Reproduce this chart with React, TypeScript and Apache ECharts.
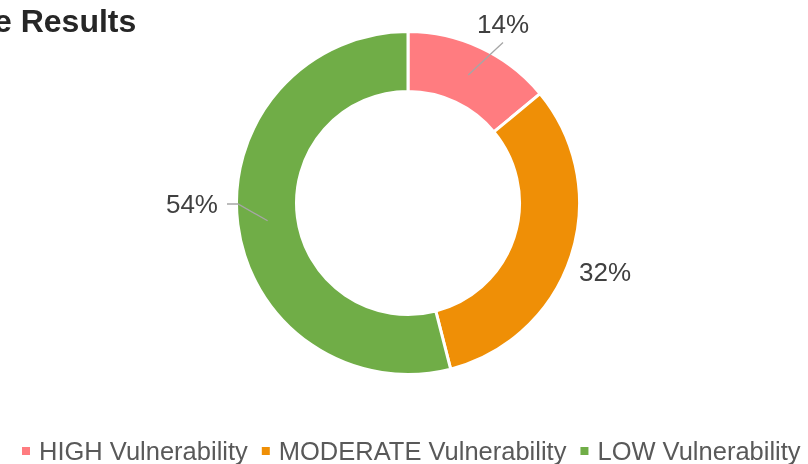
import { useEffect, useRef } from 'react';
import * as echarts from 'echarts';

const TITLE = 'e Results';
const CATEGORIES = ['HIGH Vulnerability', 'MODERATE Vulnerability', 'LOW Vulnerability'];
const VALUES = [14, 32, 54];
const COLORS = ['#FF7C80', '#EF8F06', '#70AD47'];
const SHOW_LEADER = [true, false, true];

// label placement (text anchor) for each slice
const LABEL_POS: { x: number; y: number; align: string; line: string }[] = [
  { x: 503, y: 24, align: 'center', line: 'bottom' },
  { x: 579, y: 272, align: 'left', line: 'none' },
  { x: 218, y: 204, align: 'right', line: 'right' },
];

const FONT = "'Liberation Sans', Arial, Helvetica, sans-serif";

export default function App() {
  const ref = useRef<HTMLDivElement>(null);

  useEffect(() => {
    if (!ref.current) return;
    const chart = echarts.init(ref.current, undefined, { renderer: 'svg' });
    const center = [408, 203];

    const mainData = CATEGORIES.map((name, i) => ({
      name,
      value: VALUES[i],
      itemStyle: { color: COLORS[i] },
    }));
    const labelData = CATEGORIES.map((name, i) => ({
      name,
      value: VALUES[i],
      labelLine: { show: SHOW_LEADER[i] },
    }));

    chart.setOption({
      animation: false,
      title: {
        text: TITLE,
        left: -6,
        top: 5,
        padding: 0,
        textStyle: { fontFamily: FONT, fontSize: 32, fontWeight: 'bold', color: '#262626' },
      },
      legend: {
        data: CATEGORIES,
        left: 22,
        top: 437,
        padding: 0,
        icon: 'rect',
        itemWidth: 8,
        itemHeight: 8,
        itemGap: 14,
        itemStyle: { borderWidth: 0 },
        textStyle: {
          fontFamily: FONT,
          fontSize: 25.5,
          color: '#595959',
          lineHeight: 28,
          padding: [0, 0, 0, 4],
        },
      },
      series: [
        {
          type: 'pie',
          z: 2,
          center,
          radius: [111.5, 171.5],
          startAngle: 90,
          clockwise: true,
          label: { show: false },
          labelLine: { show: false },
          itemStyle: { borderColor: '#ffffff', borderWidth: 3 },
          emphasis: { disabled: true },
          data: mainData,
        },
        {
          type: 'pie',
          z: 6,
          center,
          radius: [0, 141.5],
          startAngle: 90,
          clockwise: true,
          silent: true,
          avoidLabelOverlap: false,
          itemStyle: { color: 'rgba(0,0,0,0)' },
          emphasis: { disabled: true },
          label: {
            show: true,
            position: 'outside',
            fontFamily: FONT,
            fontSize: 26,
            color: '#404040',
            formatter: (p: any) => Math.round(p.percent) + '%',
          },
          labelLine: {
            show: true,
            length: 10,
            length2: 10,
            lineStyle: { color: '#A6A6A6', width: 1.3 },
          },
          labelLayout: (params: any) => {
            const cfg = LABEL_POS[params.dataIndex];
            const res: any = { x: cfg.x, y: cfg.y, align: cfg.align, verticalAlign: 'middle' };
            const pts = params.labelLinePoints;
            if (pts && pts[0]) {
              const p0 = [pts[0][0], pts[0][1]];
              if (cfg.line === 'bottom') {
                const e = [cfg.x, cfg.y + 18.5];
                res.labelLinePoints = [p0, e, e];
              } else if (cfg.line === 'right') {
                res.labelLinePoints = [p0, [cfg.x + 20, cfg.y], [cfg.x + 9, cfg.y]];
              }
            }
            return res;
          },
          data: labelData,
        },
      ],
    });

    return () => {
      chart.dispose();
    };
  }, []);

  return (
    <div
      ref={ref}
      style={{ position: 'fixed', left: 0, top: 0, width: 808, height: 464 }}
    />
  );
}
